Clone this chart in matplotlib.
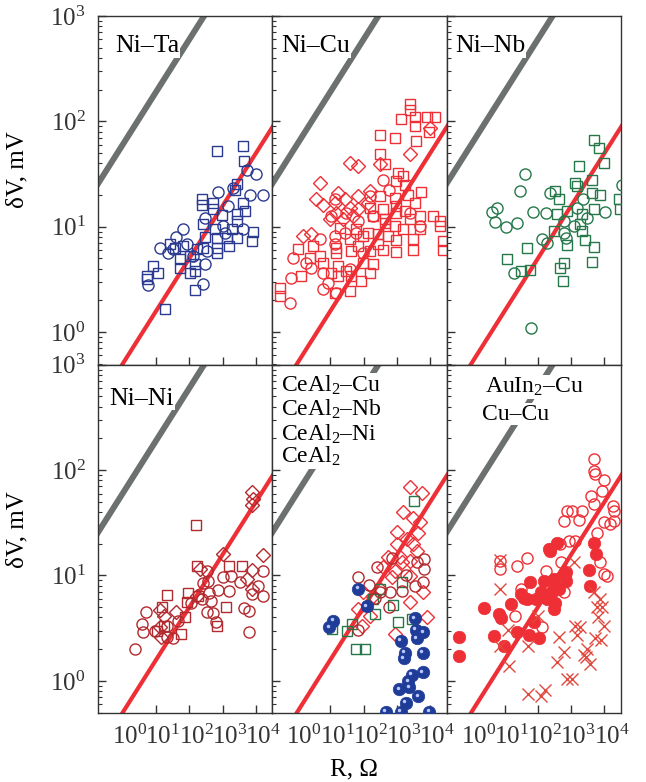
import numpy as np
import matplotlib
matplotlib.use("Agg")
import matplotlib.pyplot as plt
import matplotlib.transforms as mtransforms

plt.rcParams['font.family'] = ['Liberation Serif', 'DejaVu Serif']
plt.rcParams['mathtext.fontset'] = 'custom'
plt.rcParams['mathtext.rm'] = 'Liberation Serif'
plt.rcParams['mathtext.it'] = 'Liberation Serif:italic'
plt.rcParams['mathtext.bf'] = 'Liberation Serif:bold'

# ---------------- data (log10 R [Ohm], log10 dV [mV]) ----------------
# Ni-Ta
nita_sq_lgR = [2.82, 3.62, 3.64, 3.42, 3.37, 2.37, 2.37, 2.72, 2.70, 3.62, 3.67, 3.42, 2.97, 2.42, 2.77, 3.27,
               3.92, 3.87, 2.47, 2.82, 3.12, 3.42, 3.20, 2.82, 2.82, 2.42, 2.22, 1.82, 1.57, 1.42, 1.72, 2.02,
               2.17, 1.72, 2.02, 2.17, 0.92, 0.72, 1.07, 0.72, 2.17, 1.27, 3.42]
nita_sq_lgV = [1.716, 1.763, 1.628, 1.407, 1.353, 1.265, 1.211, 1.227, 1.170, 1.227, 1.148, 1.117, 1.107, 1.022,
               0.975, 0.975, 0.953, 0.864, 0.905, 0.896, 0.896, 0.896, 0.817, 0.801, 0.754, 0.801, 0.785, 0.817,
               0.801, 0.833, 0.691, 0.722, 0.644, 0.612, 0.565, 0.580, 0.628, 0.533, 0.565, 0.502, 0.401, 0.224,
               1.054]
nita_ci_lgR = [3.72, 3.99, 2.87, 3.32, 3.82, 4.22, 3.17, 2.47, 1.82, 1.60, 1.12, 1.37, 1.92, 1.52, 2.52, 2.47,
               2.42, 0.77, 3.62, 3.02, 3.07, 2.12]
nita_ci_lgV = [1.536, 1.505, 1.328, 1.369, 1.297, 1.297, 1.196, 1.085, 0.981, 0.905, 0.801, 0.754, 0.833, 0.785,
               0.770, 0.644, 0.461, 0.445, 0.975, 1.006, 0.943, 0.722]

# Ni-Cu
nicu_sq_lgR = [3.38, 3.38, 3.53, 3.13, 3.90, 4.13, 3.55, 3.96, 3.58, 2.48, 2.93, 2.48, 2.63, 3.03, 3.18, 2.98,
               3.23, 3.73, 3.33, 2.93, 2.48, 3.53, 2.98, 2.18, 2.58, 2.98, 2.28, 2.63, 3.23, 3.68, 3.38, 1.28,
               1.78, 2.13, 2.63, 2.93, 3.18, 3.68, 4.08, 4.28, 4.28, 1.58, 1.98, 2.43, 2.73, 2.98, 2.43, 3.48,
               1.83, 1.18, 0.48, 0.03, 0.38, 0.68, 1.63, 1.18, 2.18, 2.58, 2.98, 4.38, 4.38, 3.48, 0.78, 1.23,
               1.48, 1.98, 2.28, 2.18, 1.63, 1.93, 1.23, 1.03, 0.13, 1.58, 1.13, -0.52, -0.52]
nicu_sq_lgV = [2.167, 2.110, 2.041, 2.025, 2.041, 2.041, 1.953, 1.896, 1.811, 1.874, 1.842, 1.694, 1.599, 1.511,
               1.479, 1.432, 1.401, 1.331, 1.306, 1.274, 1.290, 1.227, 1.196, 1.180, 1.164, 1.132, 1.101, 1.069,
               1.148, 1.101, 1.069, 0.991, 0.975, 0.943, 1.038, 1.006, 0.975, 0.981, 1.101, 1.054, 1.006, 0.880,
               0.912, 0.927, 0.912, 0.874, 0.833, 0.880, 0.817, 0.801, 0.817, 0.785, 0.707, 0.722, 0.770, 0.754,
               0.770, 0.779, 0.760, 0.864, 0.779, 0.779, 0.659, 0.628, 0.580, 0.659, 0.644, 0.565, 0.533, 0.486,
               0.533, 0.565, 0.533, 0.391, 0.375, 0.423, 0.344]
nicu_ci_lgR = [-0.22, -0.17, -0.12, 0.43, 0.28, 0.68, 1.13, 1.13, 1.13, 1.48, 1.83, 2.58, 2.76, 2.18, 0.93, 0.78,
               1.18, 1.78, 2.28, 3.68, 3.38, 1.98, 1.03, 1.58, 0.78, 1.43]
nicu_ci_lgV = [0.281, 0.517, 0.707, 0.612, 0.659, 0.880, 0.912, 0.833, 1.259, 1.132, 1.054, 1.448, 1.347, 1.290,
               0.470, 0.413, 0.375, 0.943, 1.101, 1.006, 1.132, 0.754, 1.101, 0.596, 0.565, 0.943]
nicu_di_lgR = [0.68, 0.58, 0.78, 1.58, 1.83, 3.38, 3.98, 1.13, 1.43, 1.83, 2.18, 1.58, 1.83, 1.18, 0.98, 1.38,
               2.13, 2.48, 0.18, 0.43, 1.68, 1.23]
nicu_di_lgV = [1.416, 1.259, 1.211, 1.606, 1.580, 1.694, 1.937, 1.227, 1.259, 1.290, 1.338, 1.180, 1.164, 1.132,
               1.069, 1.069, 1.227, 1.599, 0.912, 0.927, 1.101, 1.322]

# Ni-Nb
ninb_sq_lgR = [3.70, 3.83, 3.23, 3.98, 3.13, 3.63, 2.53, 2.63, 3.18, 3.63, 3.88, 4.43, 4.48, 3.70, 2.88, 2.58,
               3.33, 3.28, 3.33, 2.48, 3.43, 2.88, 3.70, 1.68, 1.08, 1.48, 1.76, 2.80, 2.66, 3.63, 2.75]
ninb_sq_lgV = [1.826, 1.748, 1.580, 1.606, 1.416, 1.448, 1.338, 1.259, 1.385, 1.322, 1.306, 1.259, 1.170, 1.170,
               1.148, 1.117, 1.117, 1.022, 0.959, 0.959, 0.874, 0.823, 0.811, 0.801, 0.697, 0.580, 0.590, 0.659,
               0.612, 0.666, 0.486]
ninb_ci_lgR = [1.60, 1.45, 0.78, 0.63, 0.70, 1.05, 1.38, 1.86, 2.26, 2.38, 3.36, 4.03, 4.53, 2.13, 2.28, 2.86,
               2.80, 3.08, 3.48, 2.78, 1.28, 1.78, 3.18]
ninb_ci_lgV = [1.505, 1.338, 1.180, 1.142, 1.044, 0.997, 1.038, 1.142, 1.132, 1.322, 1.259, 1.142, 1.394, 0.880,
               0.842, 0.896, 0.943, 1.006, 1.085, 1.054, 0.565, 0.035, 1.180]

# Ni-Ni
nini_sq_lgR = [2.20, 2.22, 3.20, 3.57, 1.34, 1.95, 2.27, 1.92, 1.17, 1.87, 1.02, 1.24, 1.74, 2.82, 3.10]
nini_sq_lgV = [1.482, 1.087, 1.087, 1.087, 0.815, 0.834, 0.803, 0.746, 0.698, 0.603, 0.477, 0.524, 0.445, 0.524,
               0.698]
nini_ci_lgR = [0.37, 0.57, 0.60, 0.70, 0.97, 1.32, 1.34, 1.52, 1.67, 2.05, 2.42, 2.52, 2.57, 2.60, 2.64, 2.52,
               2.70, 2.80, 2.87, 3.02, 3.24, 3.20, 3.52, 3.64, 3.80, 3.80, 3.87, 4.07, 4.20, 4.22, 2.37]
nini_ci_lgV = [0.303, 0.540, 0.461, 0.651, 0.477, 0.524, 0.414, 0.405, 0.572, 0.739, 0.926, 1.046, 0.951, 0.834,
               0.761, 0.657, 0.645, 0.556, 0.866, 0.983, 0.998, 0.857, 0.942, 0.689, 0.665, 0.461, 0.825, 0.904,
               0.803, 1.039, 0.777]
nini_di_lgR = [3.89, 3.92, 3.87, 3.00, 4.22, 2.32, 3.87, 3.72, 3.87, 2.22, 1.12, 1.60, 1.24, 1.12, 1.14]
nini_di_lgV = [1.788, 1.725, 1.671, 1.204, 1.194, 1.062, 1.052, 0.967, 0.872, 0.803, 0.676, 0.657, 0.613, 0.509,
               0.418]

# CeAl2 panel
cecu_lgR = [3.39, 3.74, 3.19, 3.49, 3.69, 2.99, 3.64, 3.29, 2.99, 3.49, 3.59, 2.74, 3.09, 3.14, 3.39, 2.94, 2.59,
            2.84, 3.39, 3.79, 1.99, 2.29, 2.49, 3.39, 1.84, 2.19, 1.94, 2.94, 3.89]
cecu_lgV = [1.836, 1.779, 1.599, 1.542, 1.510, 1.409, 1.404, 1.346, 1.299, 1.299, 1.235, 1.172, 1.172, 1.125,
            1.141, 1.046, 1.077, 0.983, 0.998, 0.840, 0.840, 0.809, 0.872, 0.752, 0.682, 0.619, 0.524, 0.445,
            0.603]
cenb_lgR = [3.51, 2.49, 2.29, 2.34, 2.87, 3.04, 3.44, 1.64, 1.49, 1.77, 2.04, 1.04, 3.14]
cenb_lgV = [1.703, 0.872, 0.777, 0.635, 0.720, 0.556, 0.588, 0.540, 0.477, 0.303, 0.303, 0.493, 0.935]
ceni_lgR = [1.84, 2.39, 2.16, 2.34, 2.49, 2.79, 2.77, 2.84, 3.14, 3.27, 3.59, 3.81, 3.81, 3.54, 3.77, 1.84]
ceni_lgV = [0.983, 1.077, 0.910, 0.784, 0.840, 0.840, 0.698, 1.163, 0.856, 1.005, 1.125, 1.156, 1.062, 0.904,
            0.942, 0.487]
ceal_lgR = [1.84, 2.09, 1.09, 0.97, 3.54, 3.11, 3.57, 3.59, 3.79, 3.24, 3.21, 3.77, 3.77, 3.44, 3.34, 3.07, 3.37,
            3.64, 3.27, 2.67, 3.12, 3.97]
ceal_lgV = [0.872, 0.708, 0.572, 0.509, 0.594, 0.382, 0.487, 0.404, 0.461, 0.265, 0.215, 0.265, 0.082, 0.057,
            -0.006, -0.082, -0.060, -0.145, -0.209, -0.291, -0.291, -0.291]

# AuIn2-Cu / Cu-Cu panel
auo_lgR = [3.68, 3.70, 3.73, 3.98, 3.93, 3.60, 3.70, 4.26, 4.28, 4.28, 3.98, 2.88, 3.03, 3.33, 2.80, 3.23, 3.78,
           4.18, 2.93, 3.13, 2.38, 2.66, 1.68, 1.36, 0.86, 0.86, 2.70, 2.23, 2.80, 1.48, 1.30, 2.13, 3.86, 3.98,
           4.08]
auo_lgV = [2.104, 1.994, 1.962, 1.908, 1.804, 1.750, 1.678, 1.662, 1.615, 1.520, 1.511, 1.615, 1.615, 1.615,
           1.520, 1.530, 1.403, 1.488, 1.330, 1.330, 1.251, 1.299, 1.163, 1.087, 1.062, 1.141, 1.125, 1.046,
           0.840, 0.872, 0.613, 0.509, 1.125, 1.014, 0.998]
auf_lgR = [-0.37, -0.37, 0.38, 0.68, 0.83, 0.98, 0.90, 1.18, 1.38, 1.58, 1.48, 1.76, 1.73, 1.88, 2.03, 1.93, 2.08,
           2.18, 2.28, 2.43, 2.48, 2.53, 2.48, 2.63, 2.83, 2.86, 2.86, 2.38, 2.58, 2.33, 3.70, 3.76, 3.53, 3.58,
           1.68]
auf_lgV = [0.414, 0.240, 0.690, 0.423, 0.635, 0.329, 0.594, 0.730, 0.461, 0.784, 0.825, 0.935, 0.436, 0.556,
           0.404, 0.777, 0.840, 0.951, 0.777, 0.840, 0.682, 0.739, 0.967, 0.872, 0.998, 0.951, 1.030, 1.235,
           1.308, 1.251, 1.308, 1.204, 1.055, 0.904, 0.777]
cucu_lgR = [0.86, 0.86, 1.10, 0.86, 1.13, 1.70, 1.70, 2.08, 2.20, 2.00, 2.63, 2.58, 2.88, 3.03, 3.08, 3.13, 3.28,
            3.18, 3.48, 3.46, 3.58, 3.38, 3.68, 3.86, 3.78, 3.93, 3.80, 3.98, 3.73, 3.91, 2.78]
cucu_lgV = [1.150, 0.872, 0.487, 0.329, 0.145, 0.329, -0.123, -0.139, -0.090, 0.619, 0.414, 0.177, 0.019, 0.019,
            1.125, 0.524, 0.509, 0.436, 0.303, 0.224, 0.161, 0.246, 0.840, 0.777, 0.698, 0.698, 0.603, 0.524,
            0.404, 0.392, 0.272]

# reference lines: dV = A * R**0.5 (endpoints)
gray_R = [0.1, 1000.0]
gray_V = [19.0, 1897.0]
red_R = [0.1, 1.0e5]
red_V = [0.158, 158.0]

panel_titles = ["Ni–Ta", "Ni–Cu", "Ni–Nb", "Ni–Ni", None, None]
xtick_vals = [1, 10, 100, 1000, 10000]
xtick_labels = [r'$10^{0}$', r'$10^{1}$', r'$10^{2}$', r'$10^{3}$', r'$10^{4}$']
ytick_vals = [1, 10, 100, 1000]
ytick_labels = [r'$10^{0}$', r'$10^{1}$', r'$10^{2}$', r'$10^{3}$']

BLUE = '#2b3a8f'
RED = '#ee2f36'
GREEN = '#25784a'
BROWN = '#b2292e'
GRAY = '#6d7070'
XRED = '#e04a3e'
SPHERE = '#1f3c98'

fig = plt.figure(figsize=(6.46, 7.82), dpi=100)
axs = fig.subplots(2, 3, sharex=False, sharey=False)
fig.subplots_adjust(left=0.1517, right=0.961, top=0.9795, bottom=0.0876, wspace=0, hspace=0)

def P(a):
    return 10 ** np.asarray(a, dtype=float)

def open_pts(ax, lr, lv, marker, color, ms, mew=1.0):
    ax.plot(P(lr), P(lv), linestyle='none', marker=marker, ms=ms, mfc='none', mec=color, mew=mew, zorder=4)

def filled_pts(ax, lr, lv, color, ms):
    ax.plot(P(lr), P(lv), linestyle='none', marker='o', ms=ms, mfc=color, mec=color, mew=0.5, zorder=4)

SQ, CI, DI = 7.5, 8.0, 7.0

for i, ax in enumerate(axs.flat):
    ax.set_xscale('log')
    ax.set_yscale('log')
    ax.set_xlim(10 ** -0.74, 10 ** 4.49)
    ax.set_ylim(0.49, 1000)
    ax.plot(gray_R, gray_V, color=GRAY, lw=4.3, solid_capstyle='butt', zorder=2)
    ax.plot(red_R, red_V, color=RED, lw=3.0, solid_capstyle='butt', zorder=2)
    for s in ax.spines.values():
        s.set_color('#333333')
        s.set_linewidth(1.0)
    ax.tick_params(axis='both', which='both', direction='in', top=False, right=False, colors='#333333')
    ax.tick_params(axis='y', which='major', length=6, width=1.0)
    ax.tick_params(axis='y', which='minor', length=3, width=0.8)
    ax.tick_params(axis='x', which='major', length=6, width=1.0, pad=8)
    ax.tick_params(axis='x', which='minor', length=0)
    ax.set_xticks(xtick_vals)
    ax.xaxis.set_minor_locator(matplotlib.ticker.NullLocator())
    ax.set_yticks(ytick_vals)
    ax.yaxis.set_minor_locator(matplotlib.ticker.LogLocator(base=10, subs=np.arange(2, 10)))
    ax.yaxis.set_minor_formatter(matplotlib.ticker.NullFormatter())
    ax.xaxis.get_major_ticks()[0].tick1line.set_visible(False)
    if i >= 3:
        ax.set_xticklabels(xtick_labels, fontsize=18)
        off = mtransforms.ScaledTranslation(7 / 100, 0, fig.dpi_scale_trans)
        for lab in ax.get_xticklabels():
            lab.set_transform(lab.get_transform() + off)
    else:
        ax.set_xticklabels([])
    if i % 3 == 0:
        ax.set_yticklabels(ytick_labels, fontsize=18)
        ax.tick_params(axis='y', which='major', pad=9)
    else:
        ax.set_yticklabels([])

tbox = dict(facecolor='white', edgecolor='none', pad=0.6)
tfs = 18.5

ax = axs[0, 0]
open_pts(ax, nita_sq_lgR, nita_sq_lgV, 's', BLUE, SQ)
open_pts(ax, nita_ci_lgR, nita_ci_lgV, 'o', BLUE, CI)
ax.text(0.097, 0.897, panel_titles[0], transform=ax.transAxes, fontsize=tfs, va='baseline', bbox=tbox, zorder=5)

ax = axs[0, 1]
open_pts(ax, nicu_sq_lgR, nicu_sq_lgV, 's', RED, SQ)
open_pts(ax, nicu_ci_lgR, nicu_ci_lgV, 'o', RED, CI)
open_pts(ax, nicu_di_lgR, nicu_di_lgV, 'D', RED, DI)
ax.text(0.05, 0.897, panel_titles[1], transform=ax.transAxes, fontsize=tfs, va='baseline', bbox=tbox, zorder=5)

ax = axs[0, 2]
open_pts(ax, ninb_sq_lgR, ninb_sq_lgV, 's', GREEN, SQ)
open_pts(ax, ninb_ci_lgR, ninb_ci_lgV, 'o', GREEN, CI)
ax.text(0.05, 0.897, panel_titles[2], transform=ax.transAxes, fontsize=tfs, va='baseline', bbox=tbox, zorder=5)

ax = axs[1, 0]
open_pts(ax, nini_sq_lgR, nini_sq_lgV, 's', BROWN, SQ)
open_pts(ax, nini_ci_lgR, nini_ci_lgV, 'o', BROWN, CI)
open_pts(ax, nini_di_lgR, nini_di_lgV, 'D', BROWN, DI)
ax.text(0.065, 0.886, panel_titles[3], transform=ax.transAxes, fontsize=tfs, va='baseline', bbox=tbox, zorder=5)

ax = axs[1, 1]
open_pts(ax, cecu_lgR, cecu_lgV, 'D', RED, DI)
open_pts(ax, cenb_lgR, cenb_lgV, 's', GREEN, SQ)
open_pts(ax, ceni_lgR, ceni_lgV, 'o', BROWN, CI)
filled_pts(ax, ceal_lgR, ceal_lgV, SPHERE, 9.0)
hl = ax.transData + mtransforms.ScaledTranslation(-1.5 / 100, 1.5 / 100, fig.dpi_scale_trans)
ax.plot(P(ceal_lgR), P(ceal_lgV), linestyle='none', marker='o', ms=2.5, mfc='#b9c8ff', mec='none',
        transform=hl, zorder=5)
ce_labels = [r'CeAl$_2$–Cu', r'CeAl$_2$–Nb', r'CeAl$_2$–Ni', r'CeAl$_2$']
ce_y = [0.923, 0.853, 0.781, 0.719]
for lab, yy in zip(ce_labels, ce_y):
    ax.text(0.05, yy, lab, transform=ax.transAxes, fontsize=17, va='baseline', bbox=tbox, zorder=5)

ax = axs[1, 2]
open_pts(ax, auo_lgR, auo_lgV, 'o', RED, CI)
filled_pts(ax, auf_lgR, auf_lgV, RED, 9.0)
open_pts(ax, cucu_lgR, cucu_lgV, 'x', XRED, 9.0, mew=1.0)
ax.text(0.22, 0.92, r'AuIn$_2$–Cu', transform=ax.transAxes, fontsize=17, va='baseline', bbox=tbox, zorder=5)
ax.text(0.205, 0.843, 'Cu–Cu', transform=ax.transAxes, fontsize=17, va='baseline', bbox=tbox, zorder=5)

axs[0, 0].set_ylabel('δV, mV', fontsize=18)
axs[0, 0].yaxis.set_label_coords(-0.40, 0.56)
axs[1, 0].set_ylabel('δV, mV', fontsize=18)
axs[1, 0].yaxis.set_label_coords(-0.40, 0.527)
axs[1, 1].set_xlabel('R, Ω', fontsize=18)
axs[1, 1].xaxis.set_label_coords(0.47, -0.13)

fig.savefig('out.png', dpi=100)
